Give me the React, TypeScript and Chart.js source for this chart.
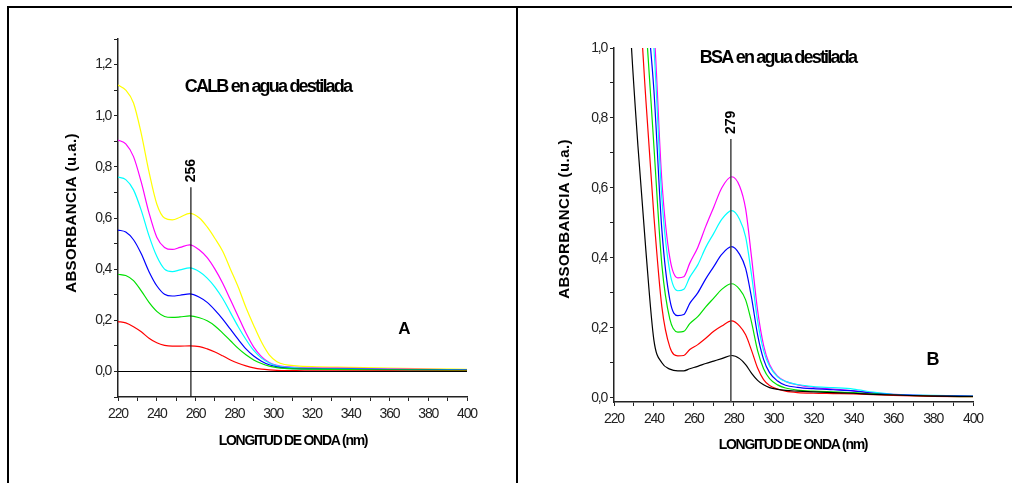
import React, { useEffect, useRef } from "react";
import { Chart, registerables } from "chart.js";

Chart.register(...registerables);

// ---------- Panel A : CALB en agua destilada ----------
const wavelengthsA = [220, 224, 228, 232, 236, 240, 244, 248, 252, 257, 262, 266, 270, 274, 278, 282, 286, 290, 294, 298, 302, 306, 312, 320, 340, 360, 380, 400];
const calbYellow = [1.12, 1.10, 1.05, 0.93, 0.78, 0.655, 0.60, 0.593, 0.603, 0.618, 0.60, 0.565, 0.52, 0.47, 0.40, 0.33, 0.25, 0.18, 0.115, 0.065, 0.038, 0.027, 0.022, 0.019, 0.016, 0.013, 0.010, 0.008];
const calbMagenta = [0.905, 0.89, 0.84, 0.74, 0.62, 0.525, 0.485, 0.477, 0.485, 0.495, 0.475, 0.445, 0.40, 0.345, 0.28, 0.215, 0.15, 0.095, 0.058, 0.035, 0.024, 0.019, 0.016, 0.014, 0.012, 0.010, 0.008, 0.006];
const calbCyan = [0.76, 0.75, 0.71, 0.63, 0.53, 0.45, 0.40, 0.39, 0.397, 0.405, 0.39, 0.365, 0.33, 0.285, 0.23, 0.175, 0.125, 0.082, 0.052, 0.033, 0.022, 0.017, 0.014, 0.012, 0.010, 0.008, 0.007, 0.005];
const calbBlue = [0.553, 0.545, 0.515, 0.46, 0.39, 0.335, 0.302, 0.295, 0.298, 0.303, 0.29, 0.27, 0.24, 0.205, 0.165, 0.125, 0.088, 0.06, 0.04, 0.026, 0.018, 0.014, 0.011, 0.010, 0.009, 0.007, 0.006, 0.005];
const calbGreen = [0.38, 0.375, 0.355, 0.315, 0.27, 0.235, 0.215, 0.211, 0.213, 0.217, 0.21, 0.198, 0.178, 0.15, 0.12, 0.09, 0.065, 0.045, 0.031, 0.021, 0.015, 0.012, 0.010, 0.009, 0.007, 0.006, 0.005, 0.004];
const calbRed = [0.195, 0.19, 0.175, 0.155, 0.13, 0.112, 0.102, 0.099, 0.099, 0.10, 0.097, 0.088, 0.076, 0.061, 0.045, 0.032, 0.022, 0.014, 0.009, 0.006, 0.004, 0.003, 0.003, 0.002, 0.002, 0.002, 0.001, 0.001];
const calbBlank = [0, 0, 0, 0, 0, 0, 0, 0, 0, 0, 0, 0, 0, 0, 0, 0, 0, 0, 0, 0, 0, 0, 0, 0, 0, 0, 0, 0];
const markerAWavelength = [257.6, 257.6];
const markerAAbsorbance = [0.72, -0.1];
const markerALabel = "256";

// ---------- Panel B : BSA en agua destilada ----------
const wavelengthsB = [224, 228, 232, 236, 240, 244, 248, 252, 255, 258, 262, 266, 270, 274, 279, 283, 286, 289, 292, 295, 298, 302, 306, 312, 320, 330, 340, 350, 360, 380, 400];
const bsaMagenta = [3.0, 2.2, 1.6, 1.25, 1.06, 0.62, 0.40, 0.343, 0.346, 0.385, 0.43, 0.49, 0.545, 0.60, 0.632, 0.605, 0.54, 0.40, 0.25, 0.15, 0.095, 0.062, 0.047, 0.037, 0.030, 0.025, 0.020, 0.014, 0.010, 0.006, 0.004];
const bsaCyan = [3.0, 2.1, 1.55, 1.2, 1.0, 0.57, 0.36, 0.306, 0.31, 0.345, 0.38, 0.43, 0.47, 0.51, 0.535, 0.51, 0.46, 0.35, 0.22, 0.135, 0.09, 0.06, 0.047, 0.038, 0.032, 0.029, 0.025, 0.016, 0.010, 0.007, 0.005];
const bsaBlue = [2.8, 2.0, 1.45, 1.15, 0.88, 0.48, 0.28, 0.235, 0.238, 0.27, 0.30, 0.34, 0.375, 0.41, 0.432, 0.41, 0.37, 0.285, 0.18, 0.11, 0.072, 0.048, 0.036, 0.030, 0.026, 0.023, 0.020, 0.013, 0.009, 0.006, 0.004];
const bsaGreen = [2.6, 1.9, 1.38, 1.07, 0.72, 0.38, 0.225, 0.188, 0.19, 0.212, 0.232, 0.26, 0.285, 0.31, 0.326, 0.31, 0.28, 0.215, 0.135, 0.083, 0.055, 0.037, 0.028, 0.022, 0.019, 0.017, 0.015, 0.011, 0.008, 0.005, 0.003];
const bsaRed = [2.3, 1.7, 1.22, 0.85, 0.52, 0.26, 0.145, 0.12, 0.121, 0.138, 0.152, 0.17, 0.19, 0.205, 0.22, 0.205, 0.18, 0.135, 0.085, 0.052, 0.035, 0.025, 0.019, 0.015, 0.013, 0.012, 0.011, 0.009, 0.007, 0.004, 0.003];
const bsaBlack = [1.6, 1.08, 0.72, 0.42, 0.165, 0.10, 0.082, 0.077, 0.077, 0.083, 0.09, 0.098, 0.105, 0.112, 0.121, 0.112, 0.095, 0.07, 0.05, 0.037, 0.029, 0.024, 0.021, 0.019, 0.017, 0.015, 0.013, 0.010, 0.008, 0.005, 0.004];
const markerBWavelength = [278.6, 278.6];
const markerBAbsorbance = [0.74, -0.012];
const markerBLabel = "279";

const xTickValues = [220, 240, 260, 280, 300, 320, 340, 360, 380, 400];

const FONT = "Arial, 'Liberation Sans', Helvetica, sans-serif";

function pts(xs: number[], ys: number[]) {
  return xs.map((x, i) => ({ x, y: ys[i] }));
}

function curve(label: string, xs: number[], ys: number[], color: string, width = 1.2) {
  return {
    label,
    data: pts(xs, ys),
    borderColor: color,
    backgroundColor: color,
    borderWidth: width,
    pointRadius: 0,
    showLine: true,
    fill: false,
    cubicInterpolationMode: "monotone" as const,
  };
}

type PanelSpec = {
  title: string;
  titleX: number;
  titleY: number;
  letter: string;
  letterX: number;
  letterY: number;
  letterSize: number;
  yTitleX: number;
  yTitleY: number;
  xTitleX: number;
  xTitleY: number;
  markerLabel: string;
  markerX: number;
  markerTop: number;
};

function textPlugin(spec: PanelSpec) {
  return {
    id: "panelTexts",
    beforeDraw(chart: any) {
      (chart.ctx as any).letterSpacing = "-1.2px";
    },
    afterDraw(chart: any) {
      const ctx = chart.ctx as any;
      const xs = chart.scales.x;
      const ys = chart.scales.y;
      ctx.save();
      ctx.fillStyle = "#000";

      // title
      ctx.letterSpacing = "-1.8px";
      ctx.font = `bold 18px ${FONT}`;
      ctx.textAlign = "center";
      ctx.textBaseline = "alphabetic";
      ctx.fillText(spec.title, spec.titleX, spec.titleY);

      // panel letter
      ctx.letterSpacing = "0px";
      ctx.font = `bold ${spec.letterSize}px ${FONT}`;
      ctx.fillText(spec.letter, spec.letterX, spec.letterY);

      // x title
      ctx.letterSpacing = "-1.3px";
      ctx.font = `bold 14px ${FONT}`;
      ctx.textBaseline = "middle";
      ctx.fillText("LONGITUD DE ONDA (nm)", spec.xTitleX, spec.xTitleY);

      // y title
      ctx.save();
      ctx.letterSpacing = "0.4px";
      ctx.font = `bold 15px ${FONT}`;
      ctx.translate(spec.yTitleX, spec.yTitleY);
      ctx.rotate(-Math.PI / 2);
      ctx.textAlign = "center";
      ctx.textBaseline = "middle";
      ctx.fillText("ABSORBANCIA (u.a.)", 0, 0);
      ctx.restore();

      // marker label
      ctx.save();
      ctx.letterSpacing = "0px";
      ctx.font = `bold 14px ${FONT}`;
      const mx = xs.getPixelForValue(spec.markerX);
      const my = ys.getPixelForValue(spec.markerTop) - 5;
      ctx.translate(mx + 0.5, my);
      ctx.rotate(-Math.PI / 2);
      ctx.textAlign = "left";
      ctx.textBaseline = "middle";
      ctx.fillText(spec.markerLabel, 0, 0);
      ctx.restore();

      ctx.restore();
      ctx.letterSpacing = "0px";
    },
  };
}

function makeConfig(opts: {
  datasets: any[];
  yMin: number;
  yMax: number;
  yWidth: number;
  xHeight: number;
  padding: { left: number; right: number; top: number; bottom: number };
  spec: PanelSpec;
}) {
  const axisColor = "#222";
  return {
    type: "scatter" as const,
    data: { datasets: opts.datasets },
    options: {
      responsive: false,
      animation: false as const,
      events: [],
      layout: { padding: opts.padding },
      plugins: { legend: { display: false }, tooltip: { enabled: false }, title: { display: false } },
      scales: {
        x: {
          type: "linear" as const,
          min: 220,
          max: 400,
          afterFit: (s: any) => {
            s.height = opts.xHeight;
          },
          border: { display: true, color: axisColor, width: 1.5 },
          grid: { display: true, drawOnChartArea: false, drawTicks: true, tickLength: 4, color: axisColor, lineWidth: 1 },
          ticks: {
            stepSize: 10,
            autoSkip: false,
            maxRotation: 0,
            minRotation: 0,
            padding: 5,
            color: "#222",
            font: { family: FONT, size: 14 },
            callback: (v: any) => (xTickValues.includes(Math.round(Number(v))) ? String(Math.round(Number(v))) : ""),
          },
        },
        y: {
          type: "linear" as const,
          min: opts.yMin,
          max: opts.yMax,
          afterFit: (s: any) => {
            s.width = opts.yWidth;
          },
          border: { display: true, color: axisColor, width: 1.5 },
          grid: { display: true, drawOnChartArea: false, drawTicks: true, tickLength: 4, color: axisColor, lineWidth: 1 },
          ticks: {
            stepSize: 0.1,
            includeBounds: false,
            autoSkip: false,
            padding: 3,
            color: "#222",
            font: { family: FONT, size: 14 },
            callback: (v: any) => {
              const t = Math.round(Number(v) * 10);
              if (t < 0 || t % 2 !== 0) return "";
              return (t / 10).toFixed(1).replace(".", ",");
            },
          },
        },
      },
    },
    plugins: [textPlugin(opts.spec)],
  };
}

function ChartCanvas({ width, height, left, build }: { width: number; height: number; left: number; build: () => any }) {
  const ref = useRef<HTMLCanvasElement | null>(null);
  useEffect(() => {
    if (!ref.current) return;
    const chart = new Chart(ref.current, build());
    return () => chart.destroy();
  }, []);
  return (
    <canvas
      ref={ref}
      width={width}
      height={height}
      style={{ position: "absolute", left, top: 0, width, height, display: "block" }}
    />
  );
}

function buildA() {
  return makeConfig({
    datasets: [
      curve("Marcador 256", pts(markerAWavelength, markerAAbsorbance).map((p) => p.x), markerAAbsorbance, "#111", 1.2),
      curve("Blanco", wavelengthsA, calbBlank, "#000", 1.1),
      curve("CALB 1", wavelengthsA, calbRed, "#ff0000"),
      curve("CALB 2", wavelengthsA, calbGreen, "#00e000"),
      curve("CALB 3", wavelengthsA, calbBlue, "#0000ff"),
      curve("CALB 4", wavelengthsA, calbCyan, "#00ffff"),
      curve("CALB 5", wavelengthsA, calbMagenta, "#ff00ff"),
      curve("CALB 6", wavelengthsA, calbYellow, "#ffff00"),
    ],
    yMin: -0.1,
    yMax: 1.3,
    yWidth: 118,
    xHeight: 86,
    padding: { left: 0, right: 49, top: 39, bottom: 0 },
    spec: {
      title: "CALB en agua destilada",
      titleX: 268,
      titleY: 91.5,
      letter: "A",
      letterX: 404.5,
      letterY: 334,
      letterSize: 17,
      yTitleX: 72,
      yTitleY: 213,
      xTitleX: 293,
      xTitleY: 441.5,
      markerLabel: markerALabel,
      markerX: markerAWavelength[0],
      markerTop: markerAAbsorbance[0],
    },
  });
}

function buildB() {
  return makeConfig({
    datasets: [
      curve("Marcador 279", markerBWavelength, markerBAbsorbance, "#444", 1.5),
      curve("BSA 0", wavelengthsB, bsaBlack, "#000"),
      curve("BSA 1", wavelengthsB, bsaRed, "#ff0000"),
      curve("BSA 2", wavelengthsB, bsaGreen, "#00e000"),
      curve("BSA 3", wavelengthsB, bsaBlue, "#0000ff"),
      curve("BSA 4", wavelengthsB, bsaCyan, "#00ffff"),
      curve("BSA 5", wavelengthsB, bsaMagenta, "#ff00ff"),
    ],
    yMin: -0.012,
    yMax: 1.0,
    yWidth: 96,
    xHeight: 81,
    padding: { left: 0, right: 39, top: 48, bottom: 0 },
    spec: {
      title: "BSA en agua destilada",
      titleX: 260,
      titleY: 63,
      letter: "B",
      letterX: 415,
      letterY: 365,
      letterSize: 18,
      yTitleX: 47,
      yTitleY: 219,
      xTitleX: 275,
      xTitleY: 445,
      markerLabel: markerBLabel,
      markerX: markerBWavelength[0],
      markerTop: markerBAbsorbance[0],
    },
  });
}

export default function App() {
  return (
    <div style={{ position: "absolute", left: 0, top: 0, width: 1012, height: 483, background: "#fff", overflow: "hidden" }}>
      <ChartCanvas width={516} height={483} left={0} build={buildA} />
      <ChartCanvas width={494} height={483} left={518} build={buildB} />
      <div style={{ position: "absolute", left: 7, top: 6, width: 1005, height: 2, background: "#000" }} />
      <div style={{ position: "absolute", left: 7, top: 6, width: 2, height: 477, background: "#000" }} />
      <div style={{ position: "absolute", left: 516, top: 6, width: 2, height: 477, background: "#000" }} />
    </div>
  );
}
